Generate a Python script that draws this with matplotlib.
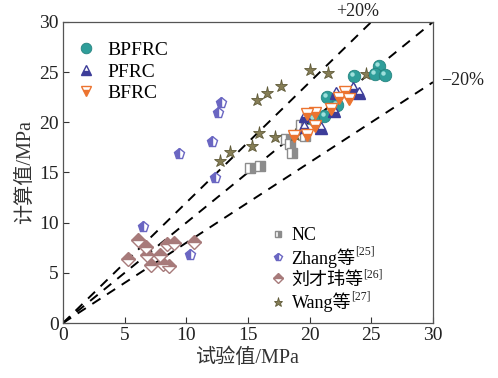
import matplotlib
matplotlib.use("Agg")
import matplotlib.pyplot as plt
from matplotlib import transforms

plt.rcParams['font.family'] = ['Liberation Serif', 'Noto Sans CJK SC']
plt.rcParams['axes.unicode_minus'] = True

# Measured (x) vs computed (y) strength, MPa
bpfrc_x = [23.6, 25.6, 25.3, 26.1, 21.4, 22.2, 21.2, 20.3]
bpfrc_y = [24.6, 25.6, 24.8, 24.7, 22.5, 21.7, 20.6, 20.3]

pfrc_x = [23.5, 24.0, 22.1, 22.0, 19.6, 19.5, 20.9]
pfrc_y = [23.4, 22.9, 22.9, 21.1, 20.6, 19.5, 19.4]

bfrc_x = [22.9, 22.4, 23.2, 21.7, 20.4, 19.8, 20.4, 19.8, 18.7]
bfrc_y = [23.0, 22.4, 22.3, 21.3, 20.9, 20.8, 19.6, 18.7, 18.6]

nc_x = [15.2, 16.0, 18.1, 18.4, 18.6, 19.3, 19.6]
nc_y = [15.4, 15.6, 18.3, 17.8, 16.9, 19.7, 18.6]

zhang_x = [12.8, 12.6, 12.1, 9.4, 12.3, 6.5, 10.3]
zhang_y = [21.9, 20.9, 18.0, 16.8, 14.4, 9.6, 6.8]

liu_x = [6.1, 6.7, 6.8, 5.3, 7.1, 7.9, 8.4, 9.0, 8.1, 8.6, 10.6]
liu_y = [8.3, 7.6, 6.8, 6.4, 5.8, 6.8, 7.9, 8.0, 5.9, 5.7, 8.1]

wang_x = [12.7, 13.5, 15.3, 15.9, 17.2, 18.8, 15.7, 16.5, 17.7, 20.0, 21.5, 24.6]
wang_y = [16.1, 17.0, 17.6, 18.9, 18.5, 18.7, 22.2, 22.9, 23.6, 25.2, 24.9, 24.8]

group1_labels = ['BPFRC', 'PFRC', 'BFRC']
group2_labels = ['NC', 'Zhang等', '刘才玮等', 'Wang等']
group2_refs = ['', '[25]', '[26]', '[27]']

fig = plt.figure(figsize=(4.98, 3.78), dpi=100)
ax = fig.add_axes([0.1265, 0.1455, 0.743, 0.7965])

# reference lines: y = x, +20 %, -20 %
dash = (0, (5, 4))
ax.plot([0, 30], [0, 30], ls=dash, color='black', lw=1.4, zorder=1)
ax.plot([0, 25], [0, 30], ls=dash, color='black', lw=1.4, zorder=1)
ax.plot([0, 30], [0, 24], ls=dash, color='black', lw=1.4, zorder=1)

h_nc, = ax.plot(nc_x, nc_y, ls='none', marker='s', ms=7, color='#8c8c8c',
                markeredgecolor='#8c8c8c', fillstyle='right',
                markerfacecoloralt='white', mew=1.0, zorder=3)
h_zh, = ax.plot(zhang_x, zhang_y, ls='none', marker='p', ms=8, color='#6a66c2',
                markeredgecolor='#6a66c2', fillstyle='left',
                markerfacecoloralt='white', mew=1.0, zorder=3)
h_liu, = ax.plot(liu_x, liu_y, ls='none', marker='D', ms=7, color='#a77a7a',
                 markeredgecolor='#a77a7a', fillstyle='top',
                 markerfacecoloralt='white', mew=1.0, zorder=3)
h_wang, = ax.plot(wang_x, wang_y, ls='none', marker='*', ms=9.5, color='#857d55',
                  markeredgecolor='#5f5a38', mew=0.6, zorder=3)
h_bp, = ax.plot(bpfrc_x, bpfrc_y, ls='none', marker='o', ms=9, color='#2f9e9a',
                markeredgecolor='#25837f', mew=0.6, zorder=4)
# small highlight on the teal spheres
hl = transforms.offset_copy(ax.transData, fig=fig, x=-1.3, y=1.3, units='points')
ax.plot(bpfrc_x, bpfrc_y, ls='none', marker='o', ms=3.2, color='#9fe0dc',
        mew=0, transform=hl, zorder=4.1)
h_p, = ax.plot(pfrc_x, pfrc_y, ls='none', marker='^', ms=9, color='#3d3d99',
               markeredgecolor='#3d3d99', fillstyle='bottom',
               markerfacecoloralt='white', mew=1.0, zorder=4)
h_b, = ax.plot(bfrc_x, bfrc_y, ls='none', marker='v', ms=9, color='#ec7430',
               markeredgecolor='#ec7430', fillstyle='bottom',
               markerfacecoloralt='white', mew=1.0, zorder=5)

ax.set_xlim(0, 30)
ax.set_ylim(0, 30)
ticks = [0, 5, 10, 15, 20, 25, 30]
ax.set_xticks(ticks)
ax.set_yticks(ticks)
ax.tick_params(direction='in', length=4, width=0.8, labelsize=14,
               colors='#333333', labelcolor='#222222', pad=3)
for s in ax.spines.values():
    s.set_color('#555555')
    s.set_linewidth(0.9)

ax.set_xlabel('试验值/MPa', fontsize=14.5, color='#333333', labelpad=3)
ax.set_ylabel('计算值/MPa', fontsize=14.5, color='#333333', labelpad=3)

ax.text(23.9, 31.0, '+20%', fontsize=13, ha='center', va='center',
        color='#222222', clip_on=False)
ax.text(32.4, 24.2, '\u221220%', fontsize=13, ha='center', va='center',
        color='#222222', clip_on=False)

leg1 = ax.legend([h_bp, h_p, h_b], group1_labels, loc='upper left',
                 bbox_to_anchor=(0.0, 0.98), frameon=False, fontsize=14,
                 markerscale=0.85, handlelength=1.0, handletextpad=0.6,
                 labelspacing=0.2, borderaxespad=0.3)
ax.add_artist(leg1)

leg2 = ax.legend([h_nc, h_zh, h_liu, h_wang], group2_labels, loc='lower left',
                 bbox_to_anchor=(0.53, 0.0), frameon=False, fontsize=13,
                 markerscale=0.7, handlelength=0.9, handletextpad=0.3,
                 labelspacing=0.22, borderaxespad=0.2)
for t, ref in zip(leg2.get_texts(), group2_refs):
    if ref:
        ax.annotate(ref, xy=(1.0, 0.8), xycoords=t, fontsize=8.5,
                    ha='left', va='center', color='#222222',
                    annotation_clip=False, zorder=10)

fig.savefig('out.png', dpi=100)
